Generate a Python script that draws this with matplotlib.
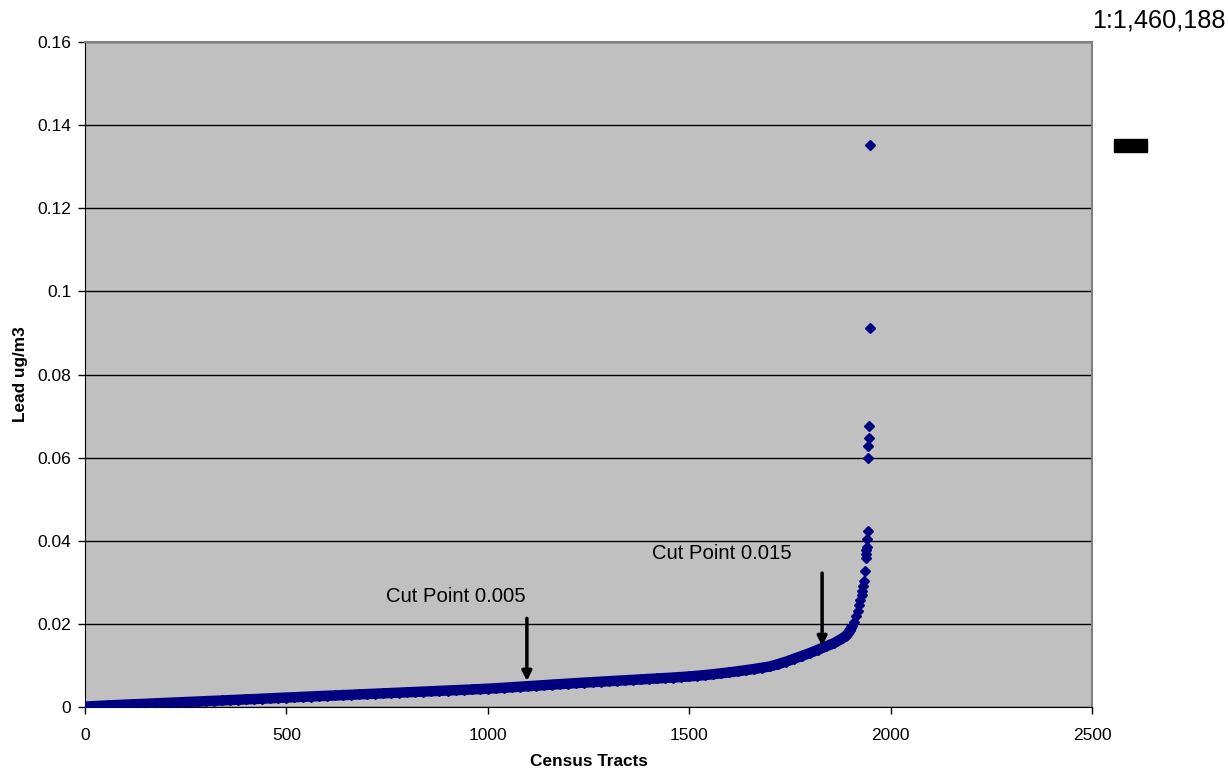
import matplotlib.pyplot as plt
import matplotlib.patches as mpatches
from matplotlib.ticker import FuncFormatter

plt.rcParams['font.family'] = ['Liberation Sans', 'DejaVu Sans']

# rank of tract (sorted) and lead value in ug/m3
rangos = list(range(0, 1881, 20))
plomo = [0.00010, 0.00022, 0.00031, 0.00040, 0.00049, 0.00058, 0.00066, 0.00074, 0.00082, 0.00091,
         0.00099, 0.00108, 0.00116, 0.00125, 0.00133, 0.00142, 0.00150, 0.00158, 0.00167, 0.00175,
         0.00184, 0.00192, 0.00201, 0.00210, 0.00219, 0.00228, 0.00236, 0.00245, 0.00253, 0.00262,
         0.00270, 0.00278, 0.00287, 0.00295, 0.00304, 0.00312, 0.00321, 0.00329, 0.00338, 0.00346,
         0.00355, 0.00363, 0.00372, 0.00380, 0.00389, 0.00397, 0.00406, 0.00414, 0.00423, 0.00432,
         0.00441, 0.00452, 0.00464, 0.00476, 0.00489, 0.00502, 0.00514, 0.00527, 0.00540, 0.00552,
         0.00564, 0.00576, 0.00588, 0.00599, 0.00610, 0.00621, 0.00632, 0.00643, 0.00654, 0.00665,
         0.00676, 0.00687, 0.00698, 0.00710, 0.00722, 0.00736, 0.00752, 0.00770, 0.00790, 0.00812,
         0.00835, 0.00860, 0.00886, 0.00914, 0.00944, 0.00976, 0.01030, 0.01090, 0.01160, 0.01230,
         0.01300, 0.01380, 0.01460, 0.01540, 0.01650]

# the steep tail, tract by tract
rangos_cola = [1890, 1895, 1900, 1905, 1910, 1914, 1918, 1922, 1925, 1928, 1930, 1932, 1934,
               1936, 1938, 1939, 1940, 1941, 1942, 1943, 1944, 1945, 1946, 1947, 1948, 1949]
plomo_cola = [0.0172, 0.0178, 0.0185, 0.0195, 0.0205, 0.0218, 0.0232, 0.0246, 0.0257, 0.0270,
              0.0280, 0.0292, 0.0304, 0.0328, 0.0358, 0.0368, 0.0378, 0.0386, 0.0404, 0.0424,
              0.0600, 0.0628, 0.0647, 0.0675, 0.0913, 0.1352]

fig = plt.figure(figsize=(12.29, 7.75), dpi=100)
ax = fig.add_axes([0.0692, 0.0877, 0.8193, 0.8581])
ax.set_facecolor('#c0c0c0')

azul = '#000080'
# dense body of points looks like a solid band
plt.plot(rangos + rangos_cola[:4], plomo + plomo_cola[:4], color=azul, linewidth=7.5,
         solid_capstyle='butt', zorder=3)
plt.plot(rangos, plomo, 'D', color=azul, markersize=5.5, zorder=3)
plt.plot(rangos_cola, plomo_cola, 'D', color=azul, markersize=5.5, zorder=3)

plt.xlim(0, 2500)
plt.ylim(0, 0.16)
plt.xticks(range(0, 2501, 500))
plt.yticks([i * 0.02 for i in range(9)])
ax.yaxis.set_major_formatter(FuncFormatter(lambda v, p: '%g' % round(v, 2)))
ax.tick_params(direction='out', length=5, width=1, labelsize=12.5)
ax.tick_params(axis='x', pad=10)
ax.tick_params(axis='y', pad=5)
ax.yaxis.grid(True, color='black', linewidth=1)
ax.set_axisbelow(True)
for lado in ['left', 'bottom']:
    ax.spines[lado].set_color('black')
for lado in ['top', 'right']:
    ax.spines[lado].set_color('#808080')
    ax.spines[lado].set_linewidth(1.5)

plt.xlabel('Census Tracts', fontsize=12.4, fontweight='bold', labelpad=8)
plt.ylabel('Lead ug/m3', fontsize=12.4, fontweight='bold', labelpad=7)

# cut point annotations
plt.text(747, 0.0267, 'Cut Point 0.005', fontsize=14.6, va='center', ha='left')
plt.annotate('', xy=(1097, 0.0056), xytext=(1097, 0.0220),
             arrowprops=dict(arrowstyle='-|>', color='black', lw=2.5, mutation_scale=14))
plt.text(1408, 0.0369, 'Cut Point 0.015', fontsize=14.6, va='center', ha='left')
plt.annotate('', xy=(1830, 0.0140), xytext=(1830, 0.0329),
             arrowprops=dict(arrowstyle='-|>', color='black', lw=2.5, mutation_scale=14))

fig.text(0.9975, 0.973, '1:1,460,188', fontsize=18.2, ha='right', va='center')
fig.patches.append(mpatches.Rectangle((1114 / 1229, 1 - 152 / 775), 33 / 1229, 13 / 775,
                                      transform=fig.transFigure, color='black'))

plt.savefig('out.png', dpi=100)
